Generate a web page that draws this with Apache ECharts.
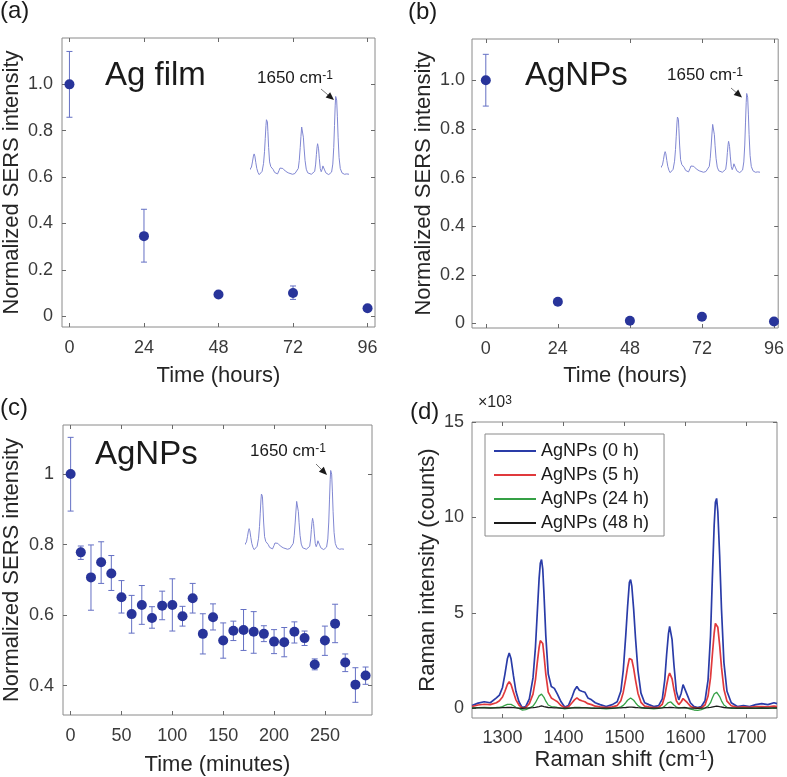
<!DOCTYPE html>
<html>
<head>
<meta charset="utf-8">
<script src="https://cdn.jsdelivr.net/npm/echarts@6/dist/echarts.min.js"></script>
<style>
html,body{margin:0;padding:0;background:#fff;}
#chart{width:787px;height:777px;}
</style>
</head>
<body>
<div id="chart"></div>
<script>
// ---------- Panel (a): Ag film ----------
const timeA = [0, 24, 48, 72, 96];
const valA  = [1.000, 0.345, 0.093, 0.100, 0.034];
const lowA  = [0.858, 0.233, 0.086, 0.072, 0.028];
const highA = [1.142, 0.461, 0.100, 0.130, 0.040];

// ---------- Panel (b): AgNPs (hours) ----------
const timeB = [0, 24, 48, 72, 96];
const valB  = [1.000, 0.089, 0.011, 0.027, 0.008];
const lowB  = [0.894, 0.082, 0.006, 0.021, 0.004];
const highB = [1.107, 0.096, 0.016, 0.033, 0.012];

// ---------- Panel (c): AgNPs (minutes) ----------
const timeC = [0,10,20,30,40,50,60,70,80,90,100,110,120,130,140,150,160,170,180,190,200,210,220,230,240,250,260,270,280,290];
const valC  = [1.000,0.778,0.707,0.750,0.718,0.651,0.603,0.629,0.592,0.627,0.629,0.597,0.648,0.547,0.594,0.528,0.556,0.558,0.553,0.547,0.525,0.523,0.553,0.535,0.460,0.528,0.576,0.466,0.403,0.429];
const lowC  = [0.895,0.758,0.614,0.690,0.670,0.606,0.549,0.574,0.563,0.587,0.555,0.569,0.606,0.490,0.558,0.478,0.528,0.500,0.492,0.525,0.491,0.482,0.521,0.514,0.445,0.486,0.522,0.440,0.353,0.404];
const highC = [1.104,0.796,0.799,0.808,0.769,0.698,0.656,0.684,0.624,0.668,0.703,0.625,0.690,0.604,0.632,0.578,0.583,0.616,0.610,0.570,0.559,0.565,0.581,0.555,0.476,0.569,0.631,0.490,0.451,0.453];

// ---------- Panel (d): Raman spectra (x10^3 counts) ----------
const ramanShift = [1250,1260,1270,1280,1290,1295,1300,1304,1308,1311,1314,1318,1322,1327,1332,1338,1344,1350,1354,1357,1360,1362,1364,1366,1368,1371,1375,1380,1385,1390,1396,1402,1408,1414,1418,1422,1426,1430,1435,1440,1446,1452,1460,1470,1480,1488,1494,1498,1502,1505,1508,1510,1512,1515,1518,1522,1527,1533,1540,1548,1556,1562,1566,1569,1572,1574,1576,1578,1581,1585,1589,1593,1596,1599,1603,1608,1614,1620,1626,1632,1637,1641,1644,1647,1649,1651,1653,1656,1659,1663,1668,1675,1685,1695,1705,1715,1725,1735,1745,1750];
const spec0h  = [0.15,0.28,0.35,0.30,0.55,0.70,1.10,1.80,2.60,2.90,2.60,1.70,0.90,0.35,0.05,0.10,0.50,1.60,3.20,5.00,6.80,7.60,7.80,7.30,6.00,3.80,1.80,1.15,1.05,0.75,0.35,0.08,0.15,0.60,0.95,1.15,0.95,0.90,0.85,0.55,0.45,0.30,0.20,0.10,0.20,0.35,0.90,2.00,3.80,5.30,6.60,6.75,6.40,5.20,3.70,2.00,0.80,0.30,0.20,0.10,0.15,0.50,1.50,2.80,3.90,4.30,4.20,3.60,2.30,0.90,0.45,0.80,1.25,1.20,0.70,0.30,0.10,0.05,0.10,0.40,1.50,3.80,6.80,9.60,10.80,11.00,10.30,8.00,5.20,2.40,0.90,0.30,0.10,0.15,0.10,0.20,0.25,0.20,0.30,0.25];
const spec5h  = [0.10,0.18,0.22,0.20,0.30,0.40,0.60,0.90,1.25,1.40,1.25,0.85,0.45,0.18,0.03,0.05,0.25,0.75,1.50,2.40,3.20,3.55,3.65,3.40,2.80,1.80,0.85,0.55,0.45,0.35,0.15,0.04,0.08,0.30,0.45,0.55,0.45,0.40,0.35,0.25,0.20,0.12,0.08,0.05,0.08,0.15,0.40,0.85,1.55,2.15,2.62,2.70,2.55,2.10,1.50,0.80,0.32,0.12,0.08,0.05,0.06,0.22,0.65,1.20,1.68,1.85,1.80,1.55,1.00,0.40,0.20,0.35,0.52,0.50,0.30,0.12,0.04,0.02,0.04,0.18,0.65,1.60,2.80,3.95,4.45,4.55,4.25,3.30,2.15,1.00,0.38,0.14,0.06,0.08,0.06,0.10,0.10,0.08,0.12,0.10];
const spec24h = [0.03,0.04,0.05,0.04,0.05,0.06,0.10,0.16,0.21,0.23,0.21,0.14,0.06,0.00,-0.08,-0.06,0.02,0.12,0.30,0.48,0.66,0.73,0.75,0.70,0.58,0.38,0.18,0.10,0.08,0.05,0.02,-0.02,0.00,0.03,0.05,0.06,0.05,0.04,0.04,0.03,0.02,0.01,0.00,-0.02,0.00,0.03,0.08,0.16,0.30,0.43,0.53,0.55,0.52,0.43,0.30,0.15,0.05,0.01,0.00,-0.02,0.00,0.04,0.12,0.22,0.31,0.35,0.34,0.29,0.18,0.07,0.03,0.04,0.06,0.05,0.02,-0.03,-0.08,-0.10,-0.06,0.02,0.12,0.30,0.55,0.76,0.84,0.85,0.80,0.62,0.40,0.18,0.06,0.01,0.00,0.01,0.00,0.01,0.02,0.01,0.02,0.02];
const spec48h = [0.02,0.03,0.03,0.02,0.03,0.03,0.04,0.04,0.05,0.05,0.05,0.04,0.03,0.02,0.01,0.02,0.03,0.04,0.06,0.08,0.10,0.12,0.13,0.12,0.10,0.07,0.05,0.04,0.03,0.03,0.02,0.02,0.02,0.03,0.03,0.03,0.03,0.03,0.03,0.03,0.02,0.02,0.02,0.02,0.02,0.03,0.03,0.04,0.05,0.06,0.07,0.07,0.07,0.06,0.05,0.04,0.03,0.03,0.02,0.02,0.02,0.03,0.04,0.05,0.05,0.06,0.06,0.05,0.04,0.03,0.03,0.03,0.04,0.04,0.03,0.02,0.02,0.01,0.02,0.03,0.04,0.06,0.08,0.10,0.12,0.12,0.11,0.09,0.07,0.05,0.03,0.03,0.02,0.02,0.02,0.02,0.03,0.02,0.03,0.03];
const specNames = ['AgNPs (0 h)', 'AgNPs (5 h)', 'AgNPs (24 h)', 'AgNPs (48 h)'];

// tick labels
const ticksHours = [0, 24, 48, 72, 96];
const ticksNorm  = [0, 0.2, 0.4, 0.6, 0.8, 1.0];
const ticksMin   = [0, 50, 100, 150, 200, 250];
const ticksNormC = [0.4, 0.6, 0.8, 1.0];
const ticksShift = [1300, 1400, 1500, 1600, 1700];
const ticksCount = [0, 5, 10, 15];

// ---------- build option ----------
const FONT = "'Liberation Sans', Arial, Helvetica, sans-serif";
const TXT = '#262626';
const FRAME = '#8a8a8a';
const DOT = '#28349a';
const ERR = '#6470c4';
const INSET = '#8087d2';

const grids = [
  {left: 62,  top: 38,  width: 313, height: 289},
  {left: 472, top: 39,  width: 309, height: 289},
  {left: 59,  top: 425, width: 313, height: 290},
  {left: 472, top: 422, width: 305, height: 296},
  {left: 251, top: 95,  width: 97,  height: 80},
  {left: 662, top: 92,  width: 97,  height: 81},
  {left: 246, top: 469, width: 97,  height: 81}
].map((g, i) => Object.assign({show: i < 4, borderColor: FRAME, borderWidth: 1, backgroundColor: 'transparent', containLabel: false}, g));

const xAxes = [], yAxes = [];
const nameStyle = {fontFamily: FONT, fontSize: 22, color: TXT,
  rich: {sup: {fontFamily: FONT, fontSize: 14, color: TXT, verticalAlign: 'top', lineHeight: 12}}};
function tickStyle(vals){ return {show: true, inside: true, length: 4, customValues: vals, lineStyle: {color: '#6a6a6a', width: 1}}; }
const noLine = {show: false, onZero: false};

function panelAxes(gi, xr, yr, xt, yt, xf, yf, xName, yName, xGap, yGap, xMargin, yMargin) {
  xAxes.push({gridIndex: gi, type: 'value', min: xr[0], max: xr[1], position: 'bottom',
    axisLine: noLine, splitLine: {show: false}, axisTick: tickStyle(xt),
    axisLabel: {customValues: xt, formatter: xf, fontFamily: FONT, fontSize: 18, color: '#3a3a3a', margin: xMargin},
    name: xName, nameLocation: 'middle', nameGap: xGap, nameTextStyle: nameStyle});
  xAxes.push({gridIndex: gi, type: 'value', min: xr[0], max: xr[1], position: 'top',
    axisLine: noLine, splitLine: {show: false}, axisTick: tickStyle(xt), axisLabel: {show: false}});
  yAxes.push({gridIndex: gi, type: 'value', min: yr[0], max: yr[1], position: 'left',
    axisLine: noLine, splitLine: {show: false}, axisTick: tickStyle(yt),
    axisLabel: {customValues: yt, formatter: yf, fontFamily: FONT, fontSize: 18, color: '#3a3a3a', margin: yMargin},
    name: yName, nameLocation: 'middle', nameGap: yGap, nameTextStyle: nameStyle});
  yAxes.push({gridIndex: gi, type: 'value', min: yr[0], max: yr[1], position: 'right',
    axisLine: noLine, splitLine: {show: false}, axisTick: tickStyle(yt), axisLabel: {show: false}});
}
const f1 = v => (Math.abs(v) < 1e-9 ? '0' : v.toFixed(1));
const fC = v => (Math.abs(v - 1) < 1e-9 ? '1' : v.toFixed(1));
const fI = v => String(Math.round(v));

panelAxes(0, [-2.4, 98.4], [-0.047, 1.2], ticksHours, ticksNorm, fI, f1, 'Time (hours)', 'Normalized SERS intensity', 38, 39, 12, 9);
panelAxes(1, [-4.6, 97.4], [-0.019, 1.17], ticksHours, ticksNorm, fI, f1, 'Time (hours)', 'Normalized SERS intensity', 37, 37, 12, 7);
panelAxes(2, [-7.5, 296.3], [0.317, 1.139], ticksMin, ticksNormC, fI, fC, 'Time (minutes)', 'Normalized SERS intensity', 39, 40, 12, 9);
panelAxes(3, [1250, 1750], [-0.5, 15], ticksShift, ticksCount, fI, fI, 'Raman shift (cm{sup|-1})', 'Raman intensity (counts)', 31, 33, 11, 8);
// inset axes (hidden)
for (let g = 4; g <= 6; g++) {
  xAxes.push({gridIndex: g, type: 'value', min: 1298, max: 1700, show: false});
  yAxes.push({gridIndex: g, type: 'value', min: 0, max: 11, show: false});
}

function errSeries(ax, ay, xs, lo, hi) {
  return {type: 'custom', xAxisIndex: ax, yAxisIndex: ay, silent: true, z: 2,
    data: xs.map((x, i) => [x, lo[i], hi[i]]),
    encode: {x: 0, y: [1, 2]},
    renderItem: (params, api) => {
      const x = api.value(0);
      const p1 = api.coord([x, api.value(1)]);
      const p2 = api.coord([x, api.value(2)]);
      const w = 3;
      const st = {stroke: ERR, lineWidth: 1};
      return {type: 'group', children: [
        {type: 'line', shape: {x1: p1[0], y1: p1[1], x2: p2[0], y2: p2[1]}, style: st},
        {type: 'line', shape: {x1: p1[0] - w, y1: p1[1], x2: p1[0] + w, y2: p1[1]}, style: st},
        {type: 'line', shape: {x1: p2[0] - w, y1: p2[1], x2: p2[0] + w, y2: p2[1]}, style: st}
      ]};
    }};
}
function dotSeries(ax, ay, xs, ys) {
  return {type: 'scatter', xAxisIndex: ax, yAxisIndex: ay, z: 3, symbol: 'circle', symbolSize: 10,
    itemStyle: {color: DOT, opacity: 1}, data: xs.map((x, i) => [x, ys[i]]), silent: true};
}
function specSeries(ax, ay, ys, name, color, width) {
  return {type: 'line', name: name, xAxisIndex: ax, yAxisIndex: ay, symbol: 'none', showSymbol: false,
    lineStyle: {color: color, width: width}, itemStyle: {color: color}, silent: true, animation: false,
    data: ramanShift.map((x, i) => [x, ys[i]])};
}

const series = [
  errSeries(0, 0, timeA, lowA, highA), dotSeries(0, 0, timeA, valA),
  errSeries(2, 2, timeB, lowB, highB), dotSeries(2, 2, timeB, valB),
  errSeries(4, 4, timeC, lowC, highC), dotSeries(4, 4, timeC, valC),
  specSeries(6, 6, spec0h, specNames[0], '#2a3ca8', 1.7),
  specSeries(6, 6, spec5h, specNames[1], '#e0393c', 1.7),
  specSeries(6, 6, spec24h, specNames[2], '#35a045', 1.3),
  specSeries(6, 6, spec48h, specNames[3], '#1a1a1a', 1.3),
  specSeries(8, 8, spec0h, 'insetA', INSET, 1),
  specSeries(9, 9, spec0h, 'insetB', INSET, 1),
  specSeries(10, 10, spec0h, 'insetC', INSET, 1)
];

function label(text, left, y, size) {
  return {type: 'text', left: left, top: y - size * 0.6, style: {text: text, font: size + 'px ' + FONT, fill: '#1a1a1a'}};
}
function peakText(left, y) {
  return {type: 'text', left: left, top: y - 10, style: {text: '1650 cm{sup|-1}', font: '17px ' + FONT, fill: '#1a1a1a',
    rich: {sup: {font: '12px ' + FONT, fill: '#1a1a1a', verticalAlign: 'top', lineHeight: 10}}}};
}
function arrow(x1, y1, x2, y2) {
  const a = Math.atan2(y2 - y1, x2 - x1), L = 8, W = 3.5;
  const bx = x2 - L * Math.cos(a), by = y2 - L * Math.sin(a);
  const nx = -Math.sin(a) * W, ny = Math.cos(a) * W;
  return [
    {type: 'line', shape: {x1: x1, y1: y1, x2: bx, y2: by}, style: {stroke: '#555', lineWidth: 0.8}},
    {type: 'polygon', shape: {points: [[x2, y2], [bx + nx, by + ny], [bx - nx, by - ny]]}, style: {fill: '#1a1a1a'}}
  ];
}

const graphic = [
  label('(a)', 0, 14, 24), label('(b)', 408, 15, 24), label('(c)', 0, 411, 24), label('(d)', 410, 415, 24),
  label('Ag film', 105, 79, 33), label('AgNPs', 525, 79, 33), label('AgNPs', 95, 458, 33),
  peakText(257, 80), peakText(667, 77), peakText(250, 453),
  ...arrow(321, 89, 334, 100), ...arrow(731, 88, 742, 97.5), ...arrow(316, 464, 327, 475),
  {type: 'text', left: 478, top: 395, style: {text: '×10{sup|3}', font: '16px ' + FONT, fill: TXT,
    rich: {sup: {font: '12px ' + FONT, fill: TXT, verticalAlign: 'top', lineHeight: 10}}}}
];

const option = {
  animation: false,
  backgroundColor: '#fff',
  textStyle: {fontFamily: FONT},
  grid: grids, xAxis: xAxes, yAxis: yAxes, series: series, graphic: graphic,
  legend: {data: specNames, left: 485, top: 434, orient: 'vertical', icon: 'rect', itemWidth: 42, itemHeight: 2, itemGap: 6,
    padding: [8, 15, 4, 9], borderColor: FRAME, borderWidth: 1, backgroundColor: '#fff', selectedMode: false,
    textStyle: {fontFamily: FONT, fontSize: 18, color: '#1a1a1a'}}
};
const chart = echarts.init(document.getElementById('chart'), null, {renderer: 'canvas'});
chart.setOption(option);
</script>
</body>
</html>
